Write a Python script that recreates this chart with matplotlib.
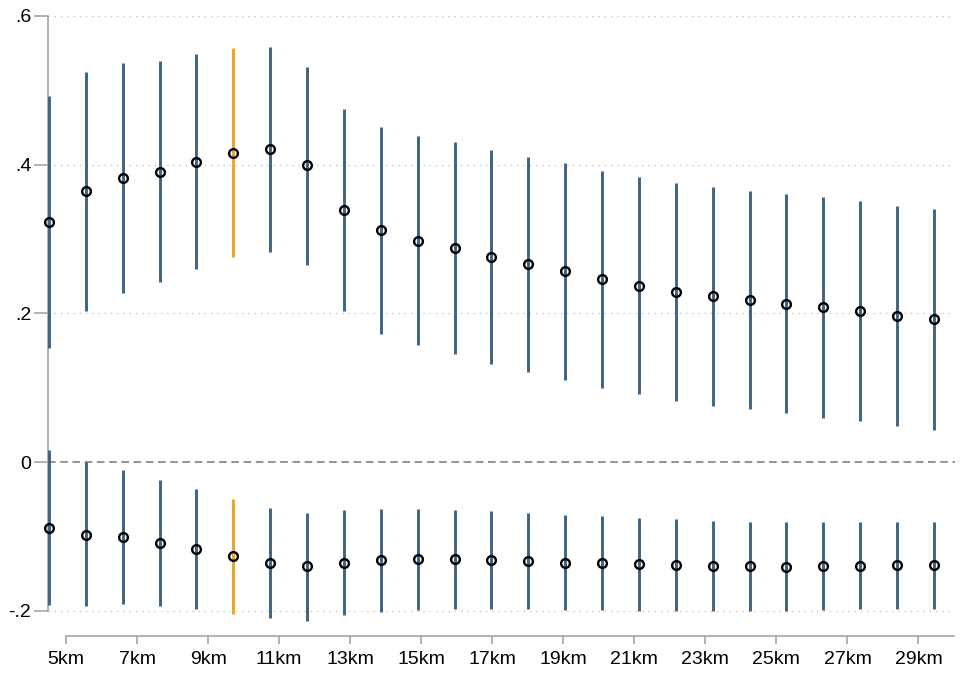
import numpy as np
import matplotlib.pyplot as plt

plt.rcParams['font.family'] = ['Liberation Sans', 'DejaVu Sans']

# bandwidths (km) for each estimate
dist = np.arange(5, 30)
highlight = 10

# upper estimates with confidence bounds
up_b = [0.323, 0.364, 0.382, 0.390, 0.404, 0.416, 0.421, 0.399, 0.339, 0.312,
        0.298, 0.288, 0.276, 0.266, 0.257, 0.246, 0.237, 0.229, 0.223, 0.218,
        0.213, 0.208, 0.203, 0.197, 0.192]
up_hi = [0.492, 0.525, 0.537, 0.539, 0.549, 0.557, 0.558, 0.532, 0.475, 0.451,
         0.439, 0.431, 0.420, 0.411, 0.402, 0.391, 0.383, 0.376, 0.370, 0.365,
         0.360, 0.356, 0.351, 0.345, 0.340]
up_lo = [0.153, 0.203, 0.227, 0.242, 0.260, 0.276, 0.283, 0.265, 0.203, 0.173,
         0.157, 0.146, 0.132, 0.121, 0.111, 0.100, 0.091, 0.082, 0.076, 0.071,
         0.066, 0.060, 0.055, 0.049, 0.043]

# lower estimates with confidence bounds
lo_b = [-0.088, -0.098, -0.101, -0.109, -0.117, -0.126, -0.136, -0.140, -0.136, -0.132,
        -0.130, -0.130, -0.132, -0.133, -0.135, -0.136, -0.137, -0.138, -0.139, -0.140,
        -0.141, -0.140, -0.139, -0.138, -0.138]
lo_hi = [0.016, 0.000, -0.011, -0.024, -0.036, -0.049, -0.061, -0.068, -0.065, -0.063,
         -0.063, -0.064, -0.066, -0.068, -0.071, -0.073, -0.075, -0.077, -0.079, -0.080,
         -0.081, -0.081, -0.081, -0.080, -0.080]
lo_lo = [-0.192, -0.193, -0.191, -0.194, -0.198, -0.204, -0.210, -0.213, -0.206, -0.201,
         -0.199, -0.198, -0.198, -0.198, -0.199, -0.199, -0.200, -0.200, -0.200, -0.200,
         -0.200, -0.199, -0.198, -0.197, -0.197]

xticks = list(range(5, 30, 2))
xlabels = [f"{k}km" for k in xticks]
yticks = [-0.2, 0, 0.2, 0.4, 0.6]
ylabels = ["-.2", "0", ".2", ".4", ".6"]

BLUE = "#3e6480"
ORANGE = "#eaa61f"
GREY = "#a6a6a6"

fig = plt.figure(figsize=(9.66, 6.75), dpi=100)
ax = fig.add_axes([0.0497, 0.0785, 0.9389, 0.8978])

for i, d in enumerate(dist):
    c = ORANGE if d == highlight else BLUE
    for b, hi, lo in ((up_b, up_hi, up_lo), (lo_b, lo_hi, lo_lo)):
        ax.vlines(d, lo[i], hi[i], color=c, lw=2.1, zorder=3, clip_on=False)
        ax.plot(d, b[i], "o", ms=6.3, mfc="none", mec="black", mew=1.7,
                zorder=4, clip_on=False)

ax.axhline(0, color="#777777", lw=1.1, ls=(0, (5, 3)), zorder=1)
for y in [-0.2, 0.2, 0.4, 0.6]:
    ax.axhline(y, color="#bdbdbd", lw=0.9, ls=(0, (1, 4)), zorder=0)

ax.set_xlim(4.973, 29.57)
ax.set_ylim(-0.215, 0.6)
ax.set_yticks(yticks)
ax.set_yticklabels(ylabels, fontsize=14)
ax.tick_params(axis="y", length=10, width=1.2, color=GREY, pad=2)
ax.set_xticks([])
for s in ["top", "right", "bottom"]:
    ax.spines[s].set_visible(False)
ax.spines["left"].set_color(GREY)
ax.spines["left"].set_linewidth(1.2)
ax.spines["left"].set_bounds(-0.2, 0.6)

# separate distance axis below the plot
xa = fig.add_axes([0.0683, 0.0578, 0.9193, 0.0001])
xa.set_xlim(5, 30)
xa.set_ylim(0, 1)
xa.set_yticks([])
xa.set_xticks(xticks)
xa.set_xticklabels(xlabels, fontsize=14)
xa.tick_params(axis="x", length=6, width=1.2, color=GREY, pad=5)
for s in ["top", "right", "left"]:
    xa.spines[s].set_visible(False)
xa.spines["bottom"].set_color(GREY)
xa.spines["bottom"].set_linewidth(1.2)
xa.patch.set_visible(False)

fig.savefig("out.png", dpi=100)
